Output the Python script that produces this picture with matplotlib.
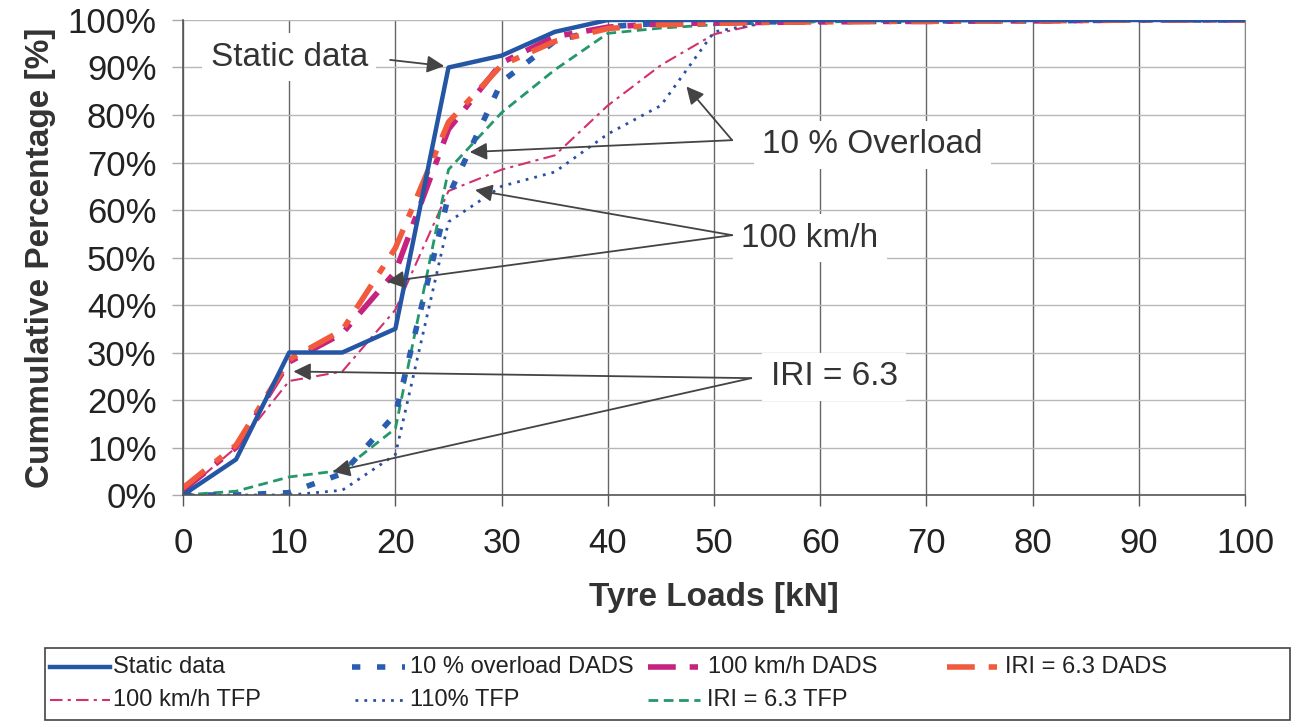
import numpy as np
import matplotlib
matplotlib.use('Agg')
import matplotlib.pyplot as plt
from matplotlib.lines import Line2D
from matplotlib.patches import Rectangle

plt.rcParams['font.family'] = ['Liberation Sans', 'DejaVu Sans']

# tyre load classes [kN]
loads = [0, 5, 10, 15, 20, 25, 30, 35, 40, 45, 50, 55, 60, 65, 70, 75, 80, 85, 90, 95, 100]

# cumulative percentages [%]
static = [0, 7.5, 30, 30, 35, 90, 92.5, 97.5, 100, 100, 100, 100, 100, 100, 100, 100, 100, 100, 100, 100, 100]
ovl_dads = [0, 0, 0.5, 4.5, 17, 63, 87, 95.5, 98.6, 99.3, 99.5, 99.6, 99.7, 99.7, 99.8, 99.8, 99.8, 99.9, 100, 100, 100]
kmh_dads = [1, 10, 28, 34, 47, 77, 91, 96.5, 98.5, 99.2, 99.4, 99.5, 99.6, 99.7, 99.7, 99.8, 99.8, 99.9, 100, 100, 100]
iri_dads = [1.5, 10.5, 28.5, 34.7, 52, 78.5, 90.5, 95.5, 98.2, 99, 99.3, 99.5, 99.6, 99.7, 99.7, 99.8, 99.8, 99.9, 100, 100, 100]
kmh_tfp = [0.5, 10, 24, 26, 39, 64, 68.5, 71.5, 82, 90.5, 97, 99.5, 99.8, 100, 100, 100, 100, 100, 100, 100, 100]
tfp_110 = [0, 0, 0, 1, 8.5, 57.5, 65, 68, 76, 82, 97.5, 99.6, 99.8, 100, 100, 100, 100, 100, 100, 100, 100]
iri_tfp = [0, 0.8, 3.8, 5.2, 14, 68.5, 80.5, 89.5, 97.2, 98.3, 99, 99.4, 99.6, 99.7, 99.8, 99.8, 99.9, 100, 100, 100, 100]

x_ticks = list(range(0, 101, 10))
y_ticks = list(range(0, 101, 10))

# line styles per series
sty_static = dict(color='#2456a5', lw=3.2, linestyle='-')
sty_ovl = dict(color='#2a5cb0', lw=4.0, dashes=(1.5, 3))
sty_kmh = dict(color='#c62280', lw=4.0, dashes=(5, 2.5, 1.5, 2.5))
sty_iri = dict(color='#f15a3c', lw=4.0, dashes=(5, 2.5, 1.5, 2.5))
sty_kmh_tfp = dict(color='#d3306f', lw=1.5, dashes=(6, 2.5, 1.5, 2.5))
sty_110 = dict(color='#2a4fa3', lw=2.0, dashes=(1, 2.2))
sty_iri_tfp = dict(color='#24986a', lw=2.0, dashes=(3.5, 2))

fig = plt.figure(figsize=(12.93, 7.22), dpi=100)
ax = fig.add_axes([0.1415, 0.3144, 0.8215, 0.6579])

# thin TFP lines first, thick DADS / static on top
ax.plot(loads, kmh_tfp, **sty_kmh_tfp)
ax.plot(loads, tfp_110, **sty_110)
ax.plot(loads, iri_tfp, **sty_iri_tfp)
ax.plot(loads, ovl_dads, **sty_ovl)
ax.plot(loads, kmh_dads, **sty_kmh)
ax.plot(loads, iri_dads, **sty_iri)
ax.plot(loads, static, **sty_static)

ax.set_xlim(0, 100)
ax.set_ylim(0, 100)
ax.set_xticks(x_ticks)
ax.set_yticks(y_ticks)
ax.set_yticklabels(['%d%%' % v for v in y_ticks])

# grid: dark verticals, light horizontals
ax.xaxis.grid(True, color='#666666', lw=1.0)
ax.yaxis.grid(True, color='#b8b8b8', lw=1.0)
ax.set_axisbelow(True)
for s in ['left', 'bottom']:
    ax.spines[s].set_color('#555555')
    ax.spines[s].set_linewidth(1.2)
ax.spines['right'].set_color('#888888')
ax.spines['top'].set_visible(False)

ax.tick_params(axis='x', direction='out', length=8, width=1, color='#555555',
               labelsize=25, pad=15, labelcolor='#222222')
ax.tick_params(axis='y', direction='out', length=8, width=1, color='#aaaaaa',
               labelsize=25, pad=11, labelcolor='#222222')

ax.set_xlabel('Tyre Loads [kN]', fontsize=24, fontweight='bold', labelpad=16, color='#333333')
ax.set_ylabel('Cummulative Percentage [%]', fontsize=24, fontweight='bold', labelpad=8, color='#333333')

# annotations: text position, arrow start, arrow tips
notes = [
    ('Static data', (10, 92.2), (19.5, 91.6), [(24.6, 90.3)]),
    ('10 % Overload', (64.9, 73.7), (51.7, 74.7), [(27.0, 72.2), (47.4, 86.0)]),
    ('100 km/h', (59.0, 54.1), (51.7, 54.7), [(27.5, 64.2), (19.2, 44.9)]),
    ('IRI = 6.3', (61.3, 24.9), (53.5, 24.6), [(10.4, 26.0), (14.1, 4.9)]),
]
for txt, pos, start, tips in notes:
    for tip in tips:
        ax.annotate('', xy=tip, xytext=start, zorder=6,
                    arrowprops=dict(arrowstyle='-|>', color='#444444', lw=1.3,
                                    mutation_scale=26, shrinkA=0, shrinkB=0))
    ax.text(pos[0], pos[1], txt, ha='center', va='center', fontsize=24, color='#333333',
            zorder=7, bbox=dict(facecolor='white', edgecolor='none', pad=6))

# legend box drawn by hand (Excel-style uneven columns), pixel positions
W, H = 1293.0, 722.0
fig.add_artist(Rectangle((45 / W, 1 - 720 / H), 1245 / W, 72 / H, transform=fig.transFigure,
                         facecolor='white', edgecolor='#444444', lw=1.2))
entries = [
    ('Static data', sty_static, 50, 110, 113, 667),
    ('10 % overload DADS', sty_ovl, 352, 405, 410, 667),
    ('100 km/h DADS', sty_kmh, 648, 702, 708, 667),
    ('IRI = 6.3 DADS', sty_iri, 947, 1000, 1005, 667),
    ('100 km/h TFP', sty_kmh_tfp, 50, 110, 113, 700),
    ('110% TFP', sty_110, 355, 405, 410, 700),
    ('IRI = 6.3 TFP', sty_iri_tfp, 648, 700, 707, 700),
]
for label, sty, hx0, hx1, tx, py in entries:
    fy = 1 - py / H
    fig.add_artist(Line2D([hx0 / W, hx1 / W], [fy, fy], transform=fig.transFigure, **sty))
    fig.text(tx / W, fy, label, ha='left', va='center', fontsize=17, color='#222222')

fig.savefig('out.png', dpi=100)
